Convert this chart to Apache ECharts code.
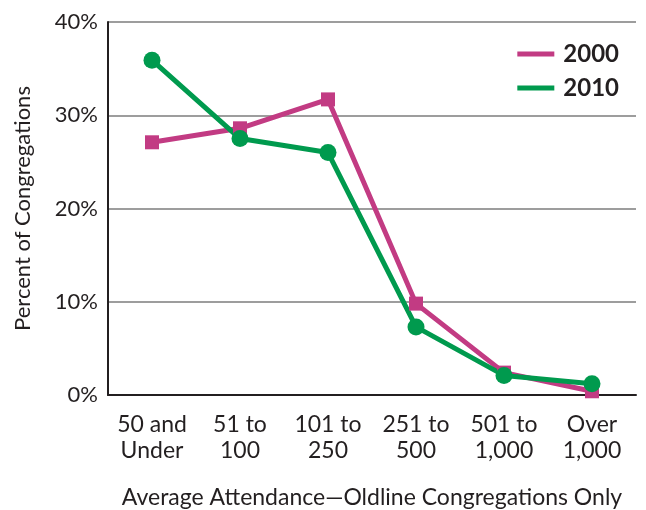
<!DOCTYPE html>
<html lang="en">
<head>
  <meta charset="UTF-8">
  <title>Oldline Congregations</title>
  <script src="https://cdn.jsdelivr.net/npm/echarts@6/dist/echarts.min.js"></script>
  <style>
    html, body { margin: 0; padding: 0; background: #fff; }
    #chart { width: 646px; height: 510px; }
  </style>
</head>
<body>
<div id="chart"></div>
<script>
  // categories on the x axis
  let categories = ["50 and\nUnder", "51 to\n100", "101 to\n250", "251 to\n500", "501 to\n1,000", "Over\n1,000"];
  // percent of congregations
  let data2000 = [27.1, 28.6, 31.7, 9.8, 2.4, 0.4];
  let data2010 = [35.9, 27.5, 26.0, 7.3, 2.1, 1.2];
  let yTicks = [0, 10, 20, 30, 40];

  let ink = "#231f20";
  let pink = "#c23b83";
  let green = "#009a4e";
  let font = "Lato";

  let myChart = echarts.init(document.getElementById("chart"));
  let option = {
    animation: false,
    grid: { left: 108, right: 10, top: 22, bottom: 115, containLabel: false, outerBoundsMode: "none" },
    legend: {
      orient: "vertical",
      right: 22,
      top: 37,
      itemGap: 10,
      itemWidth: 37,
      itemHeight: 5,
      icon: "rect",
      data: ["2000", "2010"],
      textStyle: { fontFamily: font, fontWeight: "bold", fontSize: 24, color: ink, padding: [0, 0, 0, 4] }
    },
    xAxis: {
      type: "category",
      data: categories,
      boundaryGap: true,
      name: "Average Attendance\u2014Oldline Congregations Only",
      nameLocation: "middle",
      nameGap: 91,
      nameTextStyle: { fontFamily: font, fontSize: 23, color: ink },
      axisLine: { lineStyle: { color: ink, width: 2 } },
      axisTick: { inside: true, length: 8, lineStyle: { color: ink, width: 2 } },
      axisLabel: { fontFamily: font, fontSize: 23, color: ink, lineHeight: 26, margin: 17, interval: 0 }
    },
    yAxis: {
      type: "value",
      min: yTicks[0],
      max: yTicks[yTicks.length - 1],
      interval: 10,
      name: "Percent of Congregations",
      nameLocation: "middle",
      nameGap: 74,
      nameTextStyle: { fontFamily: font, fontSize: 22, color: ink },
      axisLine: { show: true, lineStyle: { color: ink, width: 2 } },
      axisTick: { show: false },
      splitLine: { lineStyle: { color: "#9d9d9d", width: 2 } },
      axisLabel: { fontFamily: font, fontSize: 22, color: ink, margin: 10, formatter: "{value}%" }
    },
    series: [
      {
        name: "2000",
        type: "line",
        data: data2000,
        symbol: "rect",
        symbolSize: 14,
        lineStyle: { color: pink, width: 5 },
        itemStyle: { color: pink }
      },
      {
        name: "2010",
        type: "line",
        data: data2010,
        symbol: "circle",
        symbolSize: 17,
        lineStyle: { color: green, width: 5 },
        itemStyle: { color: green }
      }
    ]
  };
  myChart.setOption(option, true);
</script>
</body>
</html>
